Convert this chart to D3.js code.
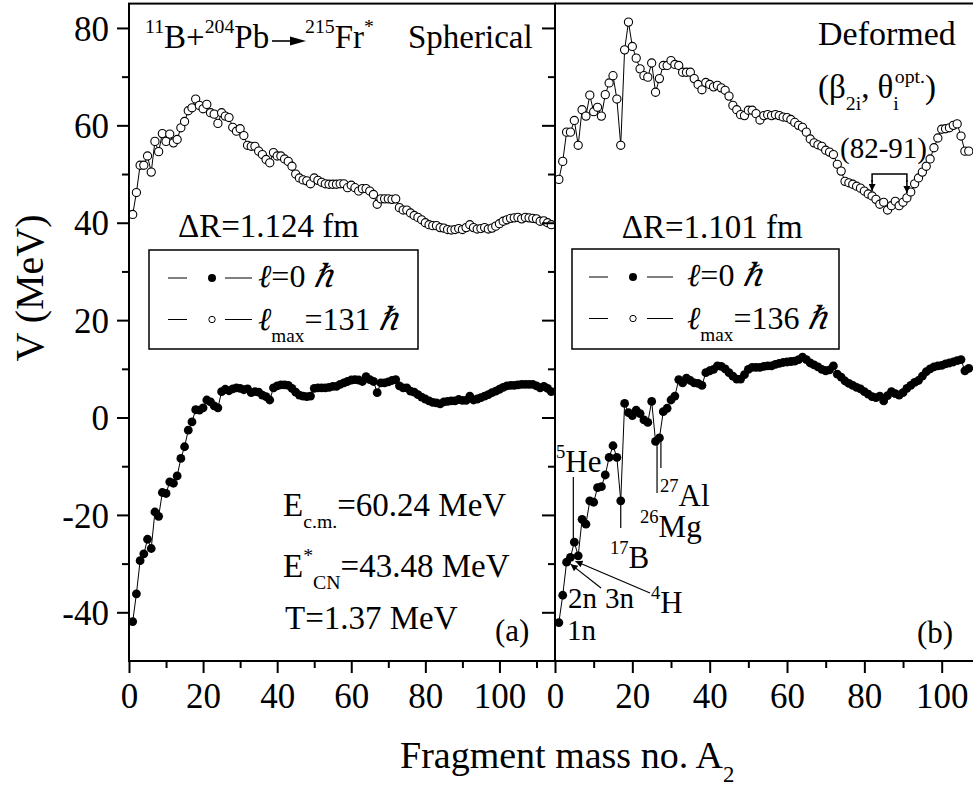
<!DOCTYPE html>
<html><head><meta charset="utf-8">
<script src="https://cdn.jsdelivr.net/npm/d3@7"></script>
</head><body style="margin:0;background:#fff"><svg id="c" width="973" height="787" font-family="serif" style="font-family:serif"></svg>
<script>
// ---------- data ----------
const massA_a = d3.range(1, 115);   // fragment mass numbers, panel (a)
const massA_b = d3.range(1, 108);   // fragment mass numbers, panel (b)
const vA_l0 = [-41.9,-36.2,-29.4,-28.0,-25.0,-26.9,-19.4,-20.3,-15.4,-15.6,
 -13.2,-13.5,-12.0,-8.4,-6.0,-2.6,-0.9,1.6,1.5,2.0,
 3.6,3.2,2.4,2.0,5.3,5.8,5.5,5.9,6.1,6.0,
 5.7,5.9,5.1,5.3,5.2,4.6,4.3,3.6,6.1,6.5,
 6.7,6.7,6.6,6.0,5.2,4.6,4.4,4.3,4.4,6.0,
 6.1,6.1,6.1,6.2,6.4,6.4,6.8,7.1,7.4,7.7,
 7.8,7.7,7.4,8.4,7.8,7.4,5.1,7.1,7.1,7.3,
 7.6,7.8,6.5,6.1,6.1,5.4,5.2,4.7,4.2,3.8,
 3.4,3.1,3.0,2.8,3.2,3.3,3.4,3.4,3.7,3.5,
 3.5,4.4,3.6,3.8,4.1,4.4,4.7,5.1,5.4,5.8,
 6.2,6.5,6.6,6.6,6.7,6.8,6.8,6.8,6.8,6.5,
 6.1,6.4,6.0,5.3];
const vA_lmax = [41.7,46.2,51.8,51.8,53.7,50.4,56.7,54.6,58.3,56.7,
 58.2,56.4,57.1,59.5,60.8,63.0,63.6,65.4,64.1,63.4,
 64.3,62.6,62.3,60.4,62.6,61.9,61.6,59.6,58.8,59.3,
 57.9,55.9,55.7,55.7,54.7,54.0,53.0,52.3,54.4,53.7,
 53.7,53.1,52.6,51.6,50.0,49.2,48.8,48.6,48.0,49.2,
 48.7,48.3,48.0,47.9,47.9,47.9,48.0,48.0,47.2,47.7,
 47.2,46.5,47.0,47.0,46.5,45.8,43.8,44.9,44.9,44.9,
 44.8,44.9,43.1,42.6,42.6,42.0,41.5,41.1,40.6,40.0,
 39.6,39.4,39.4,39.0,38.9,38.6,38.5,38.6,38.8,38.6,
 39.0,39.6,39.0,38.7,38.8,39.0,38.7,38.9,39.3,39.8,
 40.3,40.6,40.9,41.0,41.1,40.8,41.1,41.0,40.9,40.8,
 40.3,40.4,40.0,39.6];
const vB_l0 = [-42.1,-36.5,-29.7,-28.7,-25.6,-28.4,-20.9,-21.9,-17.1,-17.4,
 -14.4,-14.2,-11.8,-8.2,-5.8,-8.2,-17.1,2.9,1.0,0.4,
 1.5,0.8,-0.5,-1.0,3.3,-4.9,-4.2,1.2,1.9,3.6,
 4.4,7.8,7.1,8.1,7.6,7.1,7.0,6.6,9.2,9.6,
 9.9,10.6,10.5,10.0,9.2,8.5,7.9,7.9,8.8,9.9,
 10.3,10.3,10.3,10.5,10.6,10.6,10.9,11.1,11.3,11.4,
 11.5,11.6,11.9,12.4,11.9,11.2,10.8,10.4,9.9,9.6,
 9.8,10.6,8.9,8.3,7.5,7.0,6.6,6.2,5.9,5.3,
 4.8,4.3,4.1,4.4,3.4,4.5,5.3,4.9,4.6,5.1,
 6.0,6.6,7.2,7.6,8.5,9.4,10.0,10.4,10.6,10.7,
 11.0,11.2,11.4,11.7,11.9,9.6,10.1];
const vB_lmax = [48.9,52.6,58.6,58.6,61.0,55.9,63.2,61.9,66.2,62.8,
 63.7,61.9,66.3,68.7,70.2,65.4,55.9,75.5,81.2,76.2,
 73.8,71.6,70.2,69.9,72.8,66.8,69.6,72.3,72.3,73.3,
 72.5,72.3,70.9,70.9,70.9,69.6,68.4,67.3,68.8,68.4,
 67.9,68.2,67.7,67.2,66.0,64.1,63.2,62.2,62.0,63.1,
 63.1,62.4,61.1,62.0,62.2,62.0,62.2,62.0,61.7,61.6,
 61.2,60.6,60.0,59.6,58.6,57.2,56.4,56.0,55.7,54.9,
 54.5,54.0,52.0,50.6,48.5,48.2,47.9,47.5,47.1,46.5,
 45.9,45.5,44.8,43.8,44.2,42.6,43.5,44.4,43.5,44.2,
 45.1,46.3,48.0,49.2,50.4,51.6,53.1,55.4,57.4,59.2,
 59.3,59.5,60.0,60.3,57.8,54.7,54.7];
const xTicksMajor = [0,20,40,60,80,100];
const xTicksMinor = [10,30,50,70,90,110];
const yTicksMajor = [-40,-20,0,20,40,60,80];
const yTicksMinor = [-30,-10,10,30,50,70];

// ---------- layout ----------
const svg = d3.select("#c");
const W = 973;
const yS = d3.scaleLinear([-50,85],[661,3.6]);
const xa = d3.scaleLinear([0,115],[129,555]);
const xb = d3.scaleLinear([0,115],[555,999.7]);
const FS = 35;
const fmt = d => String(d);

const defs = svg.append("defs");
defs.append("clipPath").attr("id","clipB").append("rect")
  .attr("x",555).attr("y",0).attr("width",W-555).attr("height",662);
defs.append("marker").attr("id","ah").attr("viewBox","0 0 10 10")
  .attr("refX",10).attr("refY",5).attr("markerWidth",9).attr("markerHeight",7)
  .attr("markerUnits","userSpaceOnUse").attr("orient","auto")
  .append("path").attr("d","M0,0L10,5L0,10z").attr("fill","#000");

function rich(g, x, yy, parts, fs){
  const t = g.append("text").attr("x",x).attr("y",yy).attr("font-size",fs).style("font-family","serif");
  let cur = 0;
  parts.forEach(p=>{
    const [s,k,ex] = p;
    const target = k==="sup" ? -0.45*fs : k==="sub" ? 0.36*fs : 0;
    const ts = t.append("tspan").attr("dy", target-cur).text(s);
    if(k==="sup"||k==="sub") ts.attr("font-size", 0.6*fs);
    if(ex) Object.keys(ex).forEach(key=>ts.attr(key, ex[key]));
    cur = target;
  });
  return t;
}
function txt(x, yy, fs, s){
  return svg.append("text").attr("x",x).attr("y",yy).attr("font-size",fs).style("font-family","serif").text(s);
}

// ---------- series ----------
function series(g, xs, A, V, filled){
  const pts = A.map((a,i)=>[a,V[i]]);
  g.append("path").datum(pts)
    .attr("d", d3.line().x(d=>xs(d[0])).y(d=>yS(d[1])))
    .attr("fill","none").attr("stroke","#000").attr("stroke-width",1);
  g.selectAll(null).data(pts).join("circle")
    .attr("cx",d=>xs(d[0])).attr("cy",d=>yS(d[1]))
    .attr("r", filled?4.4:4.1)
    .attr("fill", filled?"#000":"#fff")
    .attr("stroke","#000").attr("stroke-width", filled?0:1.1);
}
const gA = svg.append("g");
series(gA, xa, massA_a, vA_lmax, false);
series(gA, xa, massA_a, vA_l0, true);
const gB = svg.append("g").attr("clip-path","url(#clipB)");
series(gB, xb, massA_b, vB_lmax, false);
series(gB, xb, massA_b, vB_l0, true);

// ---------- axes ----------
function styleAxis(g){
  g.select(".domain").remove();
  g.attr("font-family", "serif");
  g.selectAll(".tick line").attr("stroke","#000").attr("stroke-width",2);
  g.selectAll("text").attr("font-size",FS).attr("fill","#000").style("font-family","serif");
}
[xa,xb].forEach(xs=>{
  const gM = svg.append("g").attr("transform","translate(0,661)")
    .call(d3.axisBottom(xs).tickValues(xTicksMajor).tickSize(12).tickFormat(fmt));
  styleAxis(gM);
  gM.selectAll("text").attr("y",47).attr("dy",null);
  styleAxis(svg.append("g").attr("transform","translate(0,661)")
    .call(d3.axisBottom(xs).tickValues(xTicksMinor).tickSize(7).tickFormat("")));
});
const gYL = svg.append("g").attr("transform","translate(129,0)")
  .call(d3.axisLeft(yS).tickValues(yTicksMajor).tickSize(12).tickFormat(fmt));
styleAxis(gYL);
gYL.selectAll("text").attr("x",-20).attr("dy","0.35em");
styleAxis(svg.append("g").attr("transform","translate(129,0)")
  .call(d3.axisLeft(yS).tickValues(yTicksMinor).tickSize(7).tickFormat("")));
styleAxis(svg.append("g").attr("transform","translate(555,0)")
  .call(d3.axisLeft(yS).tickValues(yTicksMajor).tickSize(13).tickFormat("")));
styleAxis(svg.append("g").attr("transform","translate(555,0)")
  .call(d3.axisLeft(yS).tickValues(yTicksMinor).tickSize(7).tickFormat("")));

// frames
const fr = svg.append("g").attr("stroke","#000").attr("stroke-width",2).attr("fill","none");
fr.append("rect").attr("x",xa(0)).attr("y",yS(85)).attr("width",xa(115)-xa(0)).attr("height",yS(-50)-yS(85));
fr.append("line").attr("x1",xb(0)).attr("x2",W).attr("y1",yS(85)).attr("y2",yS(85));
fr.append("line").attr("x1",xb(0)).attr("x2",W).attr("y1",yS(-50)).attr("y2",yS(-50));

// axis titles
svg.append("text").attr("transform","translate(43,288) rotate(-90)").style("font-family","serif")
  .attr("text-anchor","middle").attr("font-size",40).text("V (MeV)");
rich(svg, 400, 768, [["Fragment mass no. A","n"],["2","sub"]], 38);

// ---------- panel (a) annotations ----------
rich(svg, 145, 48, [["11","sup"],["B+","n"],["204","sup"],["Pb","n"]], 33);
svg.append("line").attr("x1",272).attr("x2",296).attr("y1",41).attr("y2",41)
  .attr("stroke","#000").attr("stroke-width",1.6);
svg.append("path").attr("d","M290,36.5L306,41L290,45.5z").attr("fill","#000");
rich(svg, 305, 48, [["215","sup"],["Fr","n"],["*","sup"]], 33);
txt(408, 48, 33, "Spherical");
txt(178, 237, 33, "ΔR=1.124 fm");

function legend(x0, y0, w, h, o, label2){
  const g = svg.append("g");
  g.append("rect").attr("x",x0).attr("y",y0).attr("width",w).attr("height",h)
    .attr("fill","#fff").attr("stroke","#000").attr("stroke-width",1.5);
  [[28,true],[69.5,false]].forEach(([dy,filled])=>{
    const yy = y0+dy;
    g.append("line").attr("x1",x0+o.l1).attr("x2",x0+o.l2).attr("y1",yy).attr("y2",yy).attr("stroke","#000");
    g.append("line").attr("x1",x0+o.l3).attr("x2",x0+o.l4).attr("y1",yy).attr("y2",yy).attr("stroke","#000");
    g.append("circle").attr("cx",x0+o.d).attr("cy",yy).attr("r",filled?4:3.2)
      .attr("fill",filled?"#000":"#fff").attr("stroke","#000").attr("stroke-width",filled?0:1);
  });
  rich(g, x0+o.t, y0+37, [["ℓ","n",{"font-style":"italic"}],["=0","n"],["ℏ","n",{"font-style":"italic","dx":8}]], 32);
  rich(g, x0+o.t, y0+80, [["ℓ","n",{"font-style":"italic"}],["max","sub"],["="+label2,"n"],["ℏ","n",{"font-style":"italic","dx":8}]], 32);
}
legend(149, 250, 269, 99, {l1:19,l2:38,d:63,l3:76,l4:103,t:109}, "131");
legend(572, 249, 267, 100, {l1:17,l2:36,d:61,l3:75,l4:101,t:115}, "136");

rich(svg, 283, 516, [["E","n"],["c.m.","sub"],["=60.24 MeV","n"]], 33);
rich(svg, 283, 577, [["E","n"],["*","sup"],["CN","sub"],["=43.48 MeV","n"]], 33);
txt(285, 629, 33, "T=1.37 MeV");
txt(495, 641, 31, "(a)");

// ---------- panel (b) annotations ----------
txt(818, 45, 34, "Deformed");
rich(svg, 818, 98, [["(β","n"],["2i","sub"],[",","n"],["θ","n",{"dx":8}],["i","sub"],["opt.","sup",{"dx":-4}],[")","n"]], 33);
txt(840, 158, 29, "(82-91)");
const br = svg.append("g").attr("stroke","#000").attr("stroke-width",1.5).attr("fill","none");
const a82 = 82, a91 = 91;
br.append("path").attr("d",`M${xb(a82)},182V174H${xb(a91)}V182`);
br.append("line").attr("x1",xb(a82)).attr("x2",xb(a82)).attr("y1",180).attr("y2",yS(vB_lmax[a82-1])-5).attr("marker-end","url(#ah)");
br.append("line").attr("x1",xb(a91)).attr("x2",xb(a91)).attr("y1",180).attr("y2",yS(vB_lmax[a91-1])-5).attr("marker-end","url(#ah)");
txt(621.7, 238, 33, "ΔR=1.101 fm");
txt(917, 643, 31, "(b)");

// nuclide labels, pointing to data
const ann = svg.append("g").attr("stroke","#000").attr("stroke-width",1.2);
ann.append("line").attr("x1",xb(5)-1).attr("x2",xb(5)-1).attr("y1",477).attr("y2",yS(vB_l0[4])-4);
ann.append("line").attr("x1",xb(17)).attr("x2",xb(17)).attr("y1",yS(vB_l0[16])+4).attr("y2",528);
ann.append("line").attr("x1",xb(26)+1.5).attr("x2",xb(26)+1.5).attr("y1",yS(vB_l0[25])+3).attr("y2",493);
ann.append("line").attr("x1",xb(27)+1.5).attr("x2",xb(27)+1.5).attr("y1",yS(vB_l0[26])+3).attr("y2",468);
ann.append("line").attr("x1",601).attr("y1",588).attr("x2",xb(3)+4).attr("y2",yS(vB_l0[2])+2).attr("marker-end","url(#ah)");
ann.append("line").attr("x1",650).attr("y1",593).attr("x2",xb(4)+5).attr("y2",yS(vB_l0[3])+4).attr("marker-end","url(#ah)");

rich(svg, 556, 472, [["5","sup"],["He","n"]], 31);
rich(svg, 610, 568, [["17","sup"],["B","n"]], 31);
rich(svg, 640, 537, [["26","sup"],["Mg","n"]], 31);
rich(svg, 660, 506, [["27","sup"],["Al","n"]], 31);
rich(svg, 651, 613, [["4","sup"],["H","n"]], 31);
txt(567, 640, 29, "1n");
txt(568, 608, 29, "2n");
txt(605, 608, 29, "3n");
</script></body></html>
